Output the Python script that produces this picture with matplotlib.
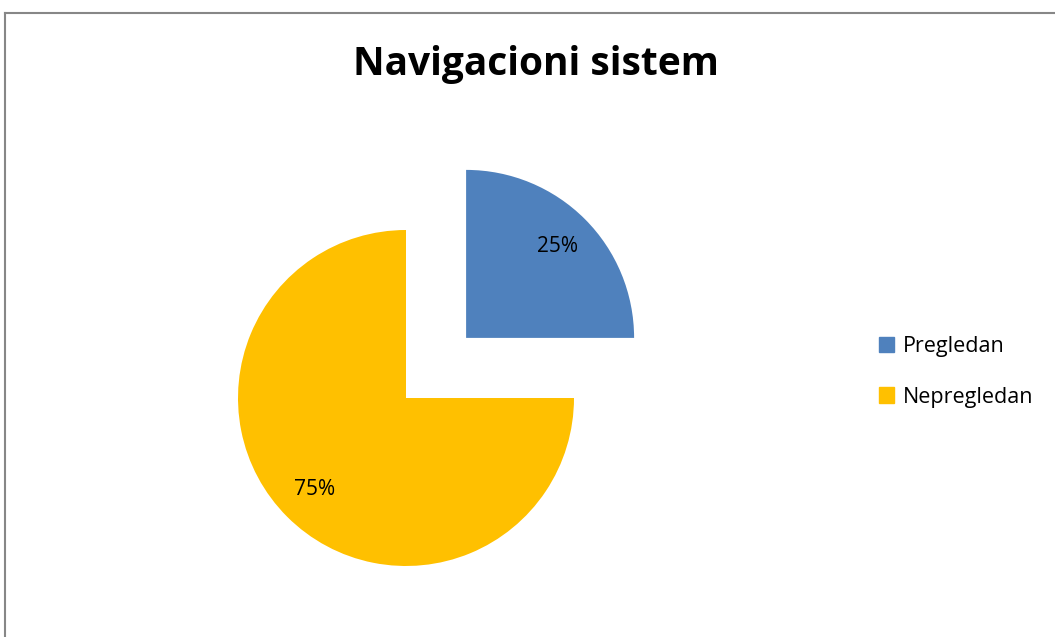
import matplotlib.pyplot as plt
from matplotlib.lines import Line2D

# data
labels = ['Pregledan', 'Nepregledan']
shares = [25, 75]
colors = ['#4F81BD', '#FFC000']
title = 'Navigacioni sistem'

W, H = 1055, 637
fig = plt.figure(figsize=(W / 100, H / 100), dpi=100)
ax = fig.add_axes([0, 0, 1, 1])

r = 168
wedges, texts, autotexts = ax.pie(
    shares, colors=colors, center=(406, H - 398), radius=r,
    startangle=90, counterclock=False, explode=[85, 0],
    autopct='%1.0f%%', pctdistance=0.77,
    textprops={'fontsize': 15, 'family': 'Open Sans', 'color': 'black'},
    frame=True)
ax.set_xlim(0, W)
ax.set_ylim(0, H)
ax.set_aspect('equal')
ax.axis('off')

ax.text(536, H - 64, title, ha='center', va='center', fontsize=28,
        fontweight='bold', family='Open Sans')

# outer frame (left and top edges only, the rest is cut off)
ax.add_line(Line2D([4.5, 4.5], [0, H - 12.5], color='#878787', lw=1.5))
ax.add_line(Line2D([4.5, W], [H - 12.5, H - 12.5], color='#878787', lw=1.5))

handles = [plt.Rectangle((0, 0), 1, 1, color=c) for c in colors]
fig.legend(handles, labels, loc='center left',
           bbox_to_anchor=(870 / W, 1 - 372 / H), frameon=False,
           prop={'family': 'Open Sans', 'size': 15.5},
           handlelength=0.7, handleheight=0.7, handletextpad=0.45,
           labelspacing=1.35, borderaxespad=0)

fig.savefig('out.png', dpi=100)
